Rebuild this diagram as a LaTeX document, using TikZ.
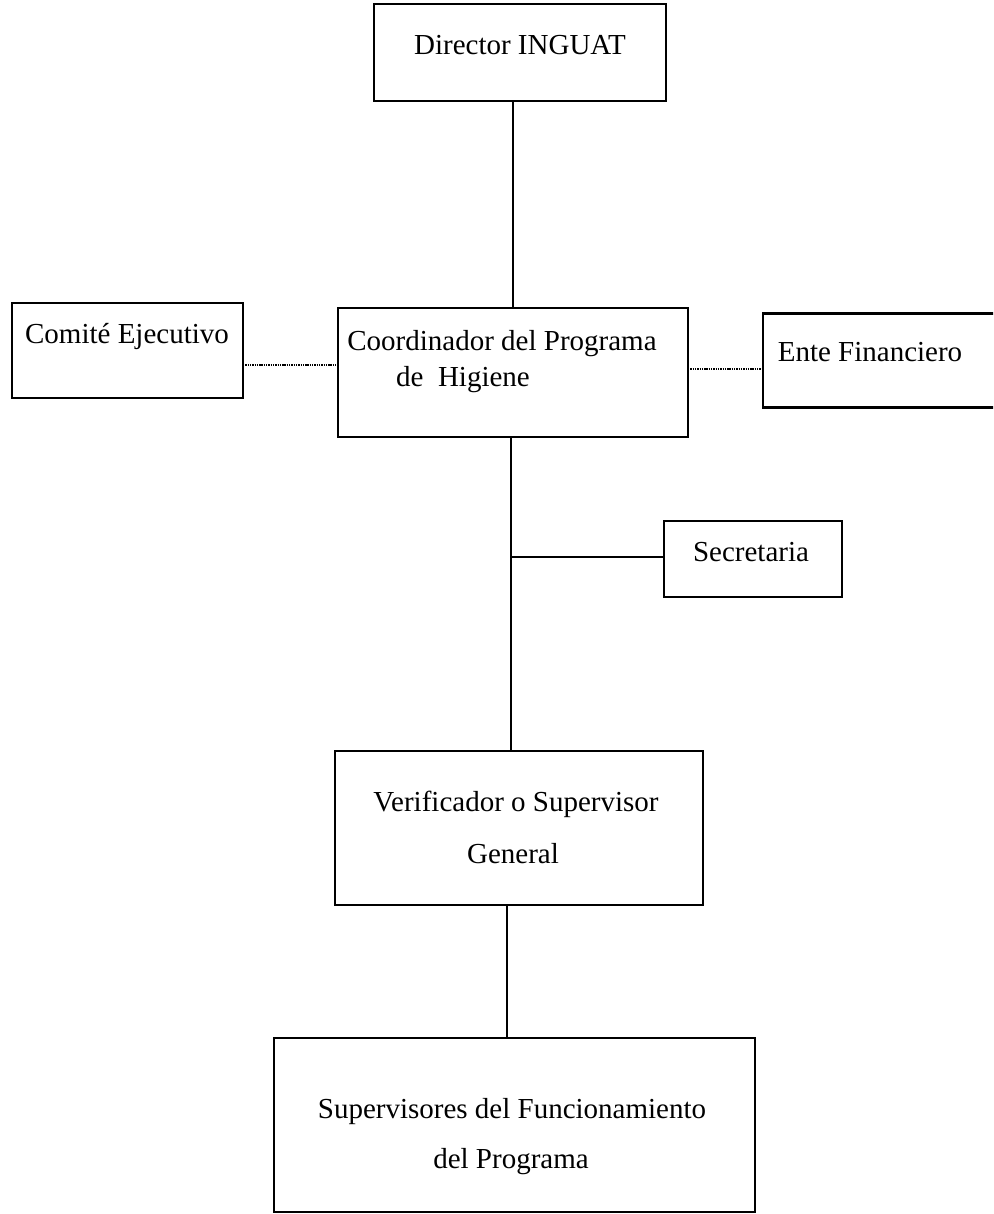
\documentclass[tikz,border=0pt]{standalone}
\usepackage{fontspec}
\setmainfont{Liberation Serif}
\begin{document}
\begin{tikzpicture}[x=1pt,y=-1pt,
  box/.style={draw=black, line width=2.3pt, inner sep=0pt, outer sep=0pt},
  lbl/.style={inner sep=0pt, font=\fontsize{29}{35}\selectfont, anchor=center},
  solidlink/.style={draw=black, line width=2.1pt},
  dotlink/.style={draw=black, line width=1.5pt, dash pattern=on 1.4pt off 0.9pt}]
\useasboundingbox (0,0) rectangle (993,1214);
\clip (0,0) rectangle (993,1214);
\fill[white] (0,0) rectangle (993,1214);

% boxes
\node[box, minimum width=292pt, minimum height=97pt]  (dir)   at (520,52.5)   {};
\node[box, minimum width=231pt, minimum height=95pt]  (com)   at (127.5,350.5) {};
\node[box, minimum width=350pt, minimum height=129pt] (coord) at (513,372.5)  {};
\node[box, minimum width=250pt, minimum height=94pt]  (ente)  at (888,360.5)  {};
\node[box, minimum width=178pt, minimum height=76pt]  (sec)   at (753,559)    {};
\node[box, minimum width=368pt, minimum height=154pt] (ver)   at (519,828)    {};
\node[box, minimum width=481pt, minimum height=174pt] (sup)   at (514.5,1125) {};

% texts
\node[lbl] (dirT)   at (520,45)   {Director INGUAT};
\node[lbl] (comT)   at (127,337)  {Comité Ejecutivo};
\node[lbl] (coordA) at (502,344)  {Coordinador del Programa};
\node[lbl] (coordB) at (463,380)  {de\ \ Higiene};
\node[lbl] (enteT)  at (870,352)  {Ente Financiero};
\node[lbl] (secT)   at (751,552)  {Secretaria};
\node[lbl] (verA)   at (516,804)  {Verificador o Supervisor};
\node[lbl] (verB)   at (513,854)  {General};
\node[lbl] (supA)   at (512,1112) {Supervisores del Funcionamiento};
\node[lbl] (supB)   at (511,1162) {del Programa};

% connector anchors
\coordinate (top)   at (513,0);
\coordinate (trunk) at (511,557);
\coordinate (low)   at (507,0);
\coordinate (lrow)  at (0,365);
\coordinate (rrow)  at (0,369);

% connectors
\draw[solidlink] (dir.south -| top) -- (coord.north -| top);
\draw[dotlink] (com.east |- lrow) -- (coord.west |- lrow);
\draw[dotlink] (coord.east |- rrow) -- (ente.west |- rrow);
\draw[solidlink] (coord.south -| trunk) -- (ver.north -| trunk);
\draw[solidlink] (trunk) -- (trunk -| sec.west);
\draw[solidlink] (ver.south -| low) -- (sup.north -| low);
\end{tikzpicture}
\end{document}
